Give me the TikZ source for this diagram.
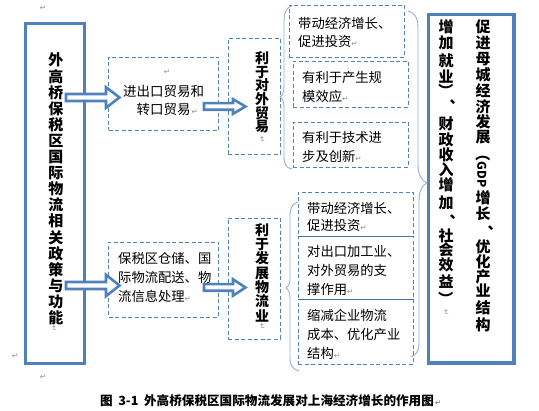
\documentclass[tikz,border=0pt]{standalone}
\usepackage{fontspec}
\setmainfont{Noto Sans CJK SC}
\newfontfamily\dejavu{DejaVu Sans}
\usetikzlibrary{calc}
\definecolor{bl}{HTML}{4F81BD}
\definecolor{brcol}{HTML}{95B0D6}
\definecolor{pmc}{HTML}{8C8C8C}
\definecolor{sepc}{HTML}{4A6FA0}
\newcommand\pmk{{\dejavu\fontsize{7.5}{7.5}\selectfont\color{pmc}↵}}
\newcommand\pmr{\rlap{\kern1pt\pmk}}
\newcommand\blkarr[5]{\draw[blk] ($(#1)+(0,#3)$) -- ($(#2)+(-#5,#3)$) -- ($(#2)+(-#5,#4)$) -- (#2) -- ($(#2)+(-#5,-#4)$) -- ($(#2)+(-#5,-#3)$) -- ($(#1)+(0,-#3)$) -- cycle;}
\begin{document}
\begin{tikzpicture}[x=1pt,y=-1pt,
  bigbox/.style={draw=bl, line width=3.5pt, inner sep=0pt},
  dbox/.style={draw=bl, line width=0.9pt, dash pattern=on 4pt off 2.5pt, inner sep=0pt},
  blk/.style={draw=bl, line width=2.6pt, fill=white, line join=miter},
  bracel/.style={draw=brcol, line width=0.9pt},
  txt/.style={inner sep=0pt, align=left, anchor=west, font=\fontsize{13.3}{19}\selectfont},
  ch/.style={inner sep=0pt, font=\bfseries\fontsize{15}{15}\selectfont},
  dun/.style={inner sep=0pt, font=\bfseries\fontsize{15}{15}\selectfont, text height=6pt, text depth=0pt},
  vtx/.style={inner sep=0pt, align=center},
  pm/.style={inner sep=0pt, font=\dejavu\fontsize{7.5}{7.5}\selectfont, text=pmc},
  captxt/.style={inner sep=0pt, font=\bfseries\fontsize{12.6}{12.6}\selectfont}]
\useasboundingbox (0,0) rectangle (539,411);
\fill[white] (0,0) rectangle (539,411);

% big boxes
\node[bigbox, minimum width=59, minimum height=340] (lb) at (55,193.5) {};
\node[bigbox, minimum width=85.5, minimum height=348.5] (rb) at (471.25,188.75) {};

% dashed boxes
\node[dbox, minimum width=110, minimum height=73.5] (tb1) at (163.5,93.75) {};
\node[dbox, minimum width=52, minimum height=115.5] (tv1) at (254,96.25) {};
\node[dbox, minimum width=115, minimum height=52] (bA) at (346.5,31) {};
\node[dbox, minimum width=115, minimum height=46] (bB) at (350.5,84) {};
\node[dbox, minimum width=115, minimum height=45] (bC) at (350.5,144.5) {};
\node[dbox, minimum width=110, minimum height=75] (bb1) at (163.5,279.5) {};
\node[dbox, minimum width=52, minimum height=121] (bv1) at (254,278.5) {};
\node[dbox, minimum width=115, minimum height=44] (bD) at (355.5,214) {};
\node[dbox, minimum width=115, minimum height=63] (bE) at (355.5,267.5) {};
\node[dbox, minimum width=115, minimum height=65] (bF) at (355.5,331.5) {};
\draw[sepc, line width=0.8pt] (bD.south west) -- (bD.south east);
\draw[sepc, line width=0.8pt] (bE.south west) -- (bE.south east);

% braces
\draw[bracel] (292,6) .. controls (285,8) and (284,14) .. (284,24) -- (284,86)
  .. controls (284,93) and (282,96) .. (280,97) .. controls (282,98) and (284,101) .. (284,108)
  -- (284,156) .. controls (284,164) and (286,168) .. (292,169);
\draw[bracel] (298,202) .. controls (292,204) and (290,208) .. (290,216) -- (290,278)
  .. controls (290,285) and (288,287) .. (286,288) .. controls (288,289) and (290,292) .. (290,298)
  -- (290,358) .. controls (290,366) and (293,369) .. (299,371);
\draw[bracel] (408,11) .. controls (415,13) and (418,18) .. (418,28) -- (418,165)
  .. controls (418,175) and (422,181) .. (427,183) .. controls (422,185) and (419,191) .. (419,201)
  -- (419,343) .. controls (419,351) and (416,355) .. (411,357);

% block arrows
\coordinate (a1s) at (66,97.5);   \coordinate (a1e) at (119.5,97.5);
\coordinate (a2s) at (204,106.5); \coordinate (a2e) at (245.5,106.5);
\coordinate (a3s) at (66,285.5);  \coordinate (a3e) at (119.5,285.5);
\coordinate (a4s) at (204,287.5); \coordinate (a4e) at (245.5,287.5);
\blkarr{a1s}{a1e}{3.5}{10.3}{13.5}
\blkarr{a2s}{a2e}{3.3}{7.3}{12.5}
\blkarr{a3s}{a3e}{3.5}{10.7}{13.5}
\blkarr{a4s}{a4e}{3.3}{8.2}{12.5}

% box texts
\node[txt, align=center, anchor=center, font=\fontsize{13.5}{18}\selectfont] (tb1t) at (163.5,100) {进出口贸易和\\转口贸易\pmr};
\node[pm] (pm4) at (167,72) {↵};
\node[txt] (bb1t) at (118,277) {保税区仓储、国\\际物流配送、物\\流信息处理\pmk};
\node[txt, font=\fontsize{13.3}{18}\selectfont] (bAt) at (298,32) {带动经济增长、\\促进投资\pmk};
\node[txt] (bBt) at (302,86.5) {有利于产生规\\模效应\pmk};
\node[txt] (bCt) at (302,146.5) {有利于技术进\\步及创新\pmk};
\node[txt, font=\fontsize{13.3}{17}\selectfont] (bDt) at (307,216.5) {带动经济增长、\\促进投资\pmk};
\node[txt] (bEt) at (307,270) {对出口加工业、\\对外贸易的支\\撑作用\pmk};
\node[txt] (bFt) at (307,334) {缩减企业物流\\成本、优化产业\\结构\pmk};

% vertical texts
\node[vtx, font=\bfseries\fontsize{15}{16.1}\selectfont] (lbt) at (56,189) {外\\高\\桥\\保\\税\\区\\国\\际\\物\\流\\相\\关\\政\\策\\与\\功\\能};
\node[pm, rotate=-90] (pm5) at (54,329) {↵};
\node[vtx, font=\bfseries\fontsize{14}{13.6}\selectfont] (tv1t) at (262,92.5) {利\\于\\对\\外\\贸\\易};
\node[pm, rotate=-90] (pm6) at (262,140) {↵};
\node[vtx, font=\bfseries\fontsize{14}{14.3}\selectfont] (bv1t) at (262,272.5) {利\\于\\发\\展\\物\\流\\业};
\node[pm, rotate=-90] (pm7) at (262,327) {↵};

% right box columns (vertical writing, right column first)
\foreach \c/\y [count=\i] in {促/27,进/43,母/59,城/75,经/91,济/107,发/122,展/137,增/198,长/214,优/247,化/262,产/277,业/291,结/308,构/325}
  \node[ch] (ra\i) at (483,\y) {\c};
\node[ch, rotate=-90] (rag) at (483,167) {（{\fontsize{12}{12}\selectfont GDP}};
\node[dun] (rad) at (495,227) {、};
\foreach \c/\y [count=\i] in {增/27,加/43,就/61,业/77,财/124,政/140,收/155,入/170,增/185,加/203,社/236,会/250,效/265,益/282}
  \node[ch] (rb\i) at (446,\y) {\c};
\node[ch, rotate=-90] (rbp1) at (446,91) {）};
\node[dun] (rbd1) at (457,101) {、};
\node[dun] (rbd2) at (457,216) {、};
\node[ch, rotate=-90] (rbp2) at (446,299) {）};
\node[pm, rotate=-90] (pm8) at (446,313) {↵};

% stray paragraph marks
\node[pm] (pm1) at (43,8) {↵};
\node[pm] (pm2) at (15,356) {↵};
\node[pm] (pm3) at (43,377) {↵};

% caption
\node[captxt] (capt) at (267,401) {图\hspace{0.45em}3-1\hspace{0.45em}外高桥保税区国际物流发展对上海经济增长的作用图\pmr};
\end{tikzpicture}
\end{document}
